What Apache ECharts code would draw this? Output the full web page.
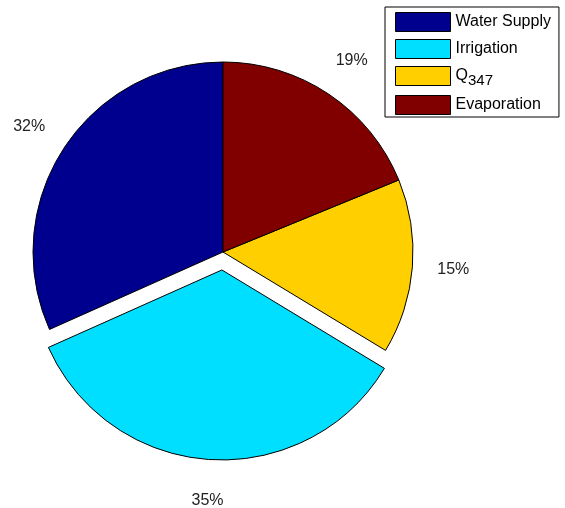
<!DOCTYPE html>
<html>
<head>
<meta charset="utf-8">
<script src="https://cdn.jsdelivr.net/npm/echarts@6/dist/echarts.min.js"></script>
<style>
  html, body { margin: 0; padding: 0; background: #fff; }
  #chart { width: 565px; height: 508px; }
</style>
</head>
<body>
<div id="chart"></div>
<script>
// Share of water use, in percent
const categories = ['Water Supply', 'Irrigation', 'Q347', 'Evaporation'];
const shares = [32, 35, 15, 19];
const explodedCategory = 'Irrigation';

const palette = ['#00008F', '#00DFFF', '#FFCF00', '#800000'];
const FONT = 'Liberation Sans, Arial, sans-serif';

const sliceData = categories.map((name, i) => ({
  name: name,
  value: shares[i],
  selected: name === explodedCategory,
  itemStyle: { color: palette[i] }
}));

// Transparent ring that carries the percentage labels just outside the pie
const labelData = categories.map((name, i) => ({
  name: name,
  value: shares[i],
  selected: name === explodedCategory,
  itemStyle: { color: 'rgba(0,0,0,0)', borderWidth: 0 },
  label: { formatter: shares[i] + '%' }
}));

const chart = echarts.init(document.getElementById('chart'), null, { renderer: 'canvas' });

chart.setOption({
  animation: false,
  backgroundColor: '#ffffff',
  textStyle: { fontFamily: FONT },
  legend: {
    orient: 'vertical',
    left: 385,
    top: 7,
    data: categories,
    padding: [5, 8, 2, 10],
    itemGap: 7,
    itemWidth: 55,
    itemHeight: 19,
    backgroundColor: '#ffffff',
    borderColor: '#000000',
    borderWidth: 1,
    borderRadius: 0,
    selectedMode: false,
    icon: 'rect',
    itemStyle: { borderColor: '#000', borderWidth: 1 },
    textStyle: {
      fontFamily: FONT,
      fontSize: 16,
      color: '#000',
      rich: {
        q: { fontFamily: FONT, fontSize: 16, color: '#000', lineHeight: 16, padding: [0, 0, 0, 0], verticalAlign: 'top' },
        s: { fontFamily: FONT, fontSize: 15, color: '#000', lineHeight: 14, padding: [5, 0, 0, 0], verticalAlign: 'top' }
      }
    },
    formatter: function (name) {
      return name === 'Q347' ? '{q|Q}{s|347}' : name;
    }
  },
  series: [
    {
      type: 'pie',
      center: [223, 252],
      radius: [0, 190],
      startAngle: 90,
      clockwise: false,
      selectedMode: 'single',
      selectedOffset: 18,
      avoidLabelOverlap: false,
      label: { show: false },
      labelLine: { show: false },
      itemStyle: { borderColor: '#000', borderWidth: 1 },
      emphasis: { disabled: true },
      silent: true,
      data: sliceData
    },
    {
      type: 'pie',
      center: [223, 252],
      radius: [220, 236],
      startAngle: 90,
      clockwise: false,
      selectedMode: 'single',
      selectedOffset: 18,
      avoidLabelOverlap: false,
      legendHoverLink: false,
      label: {
        show: true,
        position: 'inside',
        fontFamily: FONT,
        fontSize: 16,
        color: '#222'
      },
      labelLine: { show: false },
      emphasis: { disabled: true },
      silent: true,
      data: labelData
    }
  ]
});
</script>
</body>
</html>
